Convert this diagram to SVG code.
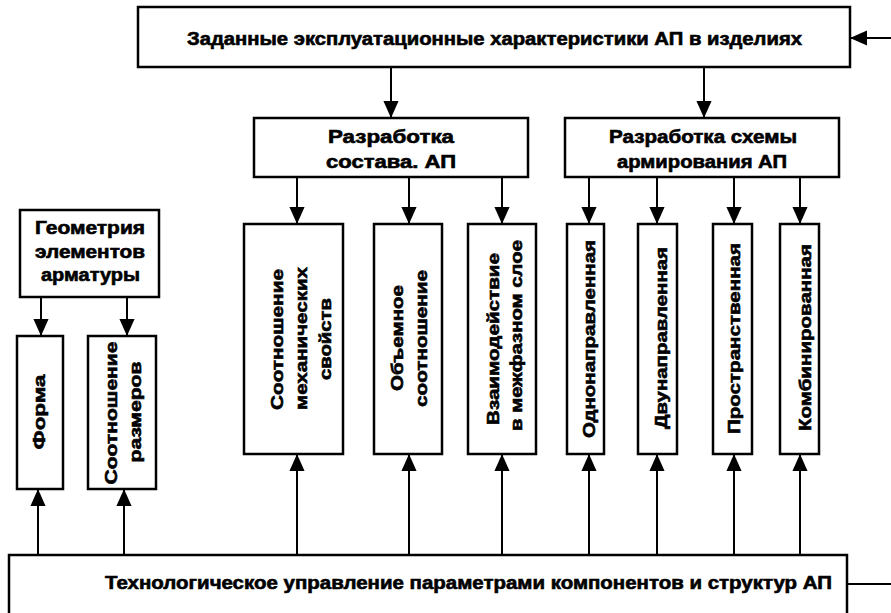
<svg xmlns="http://www.w3.org/2000/svg" width="891" height="613" viewBox="0 0 891 613">
  <style>
    .box { fill: #ffffff; stroke: #000000; stroke-width: 2.5; }
    .conn { fill: none; stroke: #000000; stroke-width: 2; }
    .arr { marker-end: url(#head); }
    text { font-family: "Liberation Sans", Arial, sans-serif; font-weight: bold; fill: #000000; stroke: #000000; stroke-width: 0.6; }
    .h { font-size: 18px; text-anchor: middle; }
    .v { font-size: 17px; text-anchor: middle; }
  </style>
  <defs>
    <marker id="head" viewBox="0 0 18 18" refX="18" refY="9" markerWidth="18" markerHeight="17" markerUnits="userSpaceOnUse" orient="auto">
      <path d="M0,1 L18,9 L0,17 Z" fill="#000000"/>
    </marker>
  </defs>
  <rect width="891" height="613" fill="#ffffff"/>

  <!-- connectors -->
  <g id="connectors">
    <line class="conn arr" x1="891" y1="38" x2="850" y2="38"/>
    <line class="conn arr" x1="391" y1="67" x2="391" y2="118"/>
    <line class="conn arr" x1="704" y1="67" x2="704" y2="118"/>
    <line class="conn arr" x1="297" y1="177" x2="297" y2="224"/>
    <line class="conn arr" x1="409" y1="177" x2="409" y2="224"/>
    <line class="conn arr" x1="502" y1="177" x2="502" y2="224"/>
    <line class="conn arr" x1="589" y1="177" x2="589" y2="224"/>
    <line class="conn arr" x1="657" y1="177" x2="657" y2="224"/>
    <line class="conn arr" x1="734" y1="177" x2="734" y2="224"/>
    <line class="conn arr" x1="800" y1="177" x2="800" y2="224"/>
    <line class="conn arr" x1="41" y1="297" x2="41" y2="336"/>
    <line class="conn arr" x1="127" y1="297" x2="127" y2="336"/>
    <line class="conn arr" x1="38" y1="555" x2="38" y2="489"/>
    <line class="conn arr" x1="124" y1="555" x2="124" y2="489"/>
    <line class="conn arr" x1="297" y1="555" x2="297" y2="454"/>
    <line class="conn arr" x1="409" y1="555" x2="409" y2="454"/>
    <line class="conn arr" x1="502" y1="555" x2="502" y2="454"/>
    <line class="conn arr" x1="589" y1="555" x2="589" y2="454"/>
    <line class="conn arr" x1="657" y1="555" x2="657" y2="454"/>
    <line class="conn arr" x1="734" y1="555" x2="734" y2="454"/>
    <line class="conn arr" x1="800" y1="555" x2="800" y2="454"/>
    <line class="conn" x1="847" y1="584" x2="891" y2="584"/>
  </g>

  <g id="n-top">
    <rect class="box" x="138" y="7" width="712" height="60"/>
    <text class="h" x="494.5" y="45" textLength="615" lengthAdjust="spacingAndGlyphs">Заданные эксплуатационные характеристики АП в изделиях</text>
  </g>

  <g id="n-sostav">
    <rect class="box" x="254" y="118" width="274" height="59"/>
    <text class="h" x="391" y="143" textLength="126" lengthAdjust="spacingAndGlyphs">Разработка</text>
    <text class="h" x="391" y="168" textLength="130" lengthAdjust="spacingAndGlyphs">состава. АП</text>
  </g>

  <g id="n-skhema">
    <rect class="box" x="565" y="118" width="274" height="59"/>
    <text class="h" x="703" y="143" textLength="188" lengthAdjust="spacingAndGlyphs">Разработка схемы</text>
    <text class="h" x="702" y="168" textLength="170" lengthAdjust="spacingAndGlyphs">армирования АП</text>
  </g>

  <g id="n-geom">
    <rect class="box" x="20" y="210" width="139" height="87"/>
    <text class="h" x="90" y="234" font-size="17" textLength="110" lengthAdjust="spacingAndGlyphs">Геометрия</text>
    <text class="h" x="90" y="258" font-size="17" textLength="110" lengthAdjust="spacingAndGlyphs">элементов</text>
    <text class="h" x="90.5" y="281" font-size="17" textLength="99" lengthAdjust="spacingAndGlyphs">арматуры</text>
  </g>

  <g id="n-forma">
    <rect class="box" x="17" y="336" width="46" height="153"/>
    <text class="v" transform="translate(45 412) rotate(-90)" textLength="75" lengthAdjust="spacingAndGlyphs">Форма</text>
  </g>

  <g id="n-razmery">
    <rect class="box" x="88" y="336" width="68" height="153"/>
    <text class="v" transform="translate(117 413) rotate(-90)" textLength="143" lengthAdjust="spacingAndGlyphs">Соотношение</text>
    <text class="v" transform="translate(141 412) rotate(-90)" textLength="101" lengthAdjust="spacingAndGlyphs">размеров</text>
  </g>

  <g id="n-mekh">
    <rect class="box" x="244" y="224" width="99" height="230"/>
    <text class="v" transform="translate(283 339.5) rotate(-90)" textLength="141" lengthAdjust="spacingAndGlyphs">Соотношение</text>
    <text class="v" transform="translate(307 338.5) rotate(-90)" textLength="143" lengthAdjust="spacingAndGlyphs">механических</text>
    <text class="v" transform="translate(331 339) rotate(-90)" textLength="82" lengthAdjust="spacingAndGlyphs">свойств</text>
  </g>

  <g id="n-obem">
    <rect class="box" x="374" y="224" width="68" height="230"/>
    <text class="v" transform="translate(403 338) rotate(-90)" textLength="106" lengthAdjust="spacingAndGlyphs">Объемное</text>
    <text class="v" transform="translate(427 338.5) rotate(-90)" textLength="137" lengthAdjust="spacingAndGlyphs">соотношение</text>
  </g>

  <g id="n-vzaim">
    <rect class="box" x="468" y="224" width="68" height="230"/>
    <text class="v" transform="translate(499 339) rotate(-90)" textLength="172" lengthAdjust="spacingAndGlyphs">Взаимодействие</text>
    <text class="v" transform="translate(522 335.5) rotate(-90)" textLength="191" lengthAdjust="spacingAndGlyphs">в межфазном слое</text>
  </g>

  <g id="n-odno">
    <rect class="box" x="567" y="224" width="37" height="230"/>
    <text class="v" transform="translate(595 339) rotate(-90)" textLength="198" lengthAdjust="spacingAndGlyphs">Однонаправленная</text>
  </g>

  <g id="n-dvu">
    <rect class="box" x="638" y="224" width="39" height="230"/>
    <text class="v" transform="translate(667 338) rotate(-90)" textLength="182" lengthAdjust="spacingAndGlyphs">Двунаправленная</text>
  </g>

  <g id="n-prostr">
    <rect class="box" x="713" y="224" width="39" height="230"/>
    <text class="v" transform="translate(740 338.5) rotate(-90)" textLength="191" lengthAdjust="spacingAndGlyphs">Пространственная</text>
  </g>

  <g id="n-komb">
    <rect class="box" x="780" y="224" width="39" height="230"/>
    <text class="v" transform="translate(811 337.5) rotate(-90)" textLength="187" lengthAdjust="spacingAndGlyphs">Комбинированная</text>
  </g>

  <g id="n-tekh">
    <rect class="box" x="9" y="555" width="838" height="70"/>
    <text class="h" x="468.5" y="589" textLength="727" lengthAdjust="spacingAndGlyphs">Технологическое управление параметрами компонентов и структур АП</text>
  </g>
</svg>
